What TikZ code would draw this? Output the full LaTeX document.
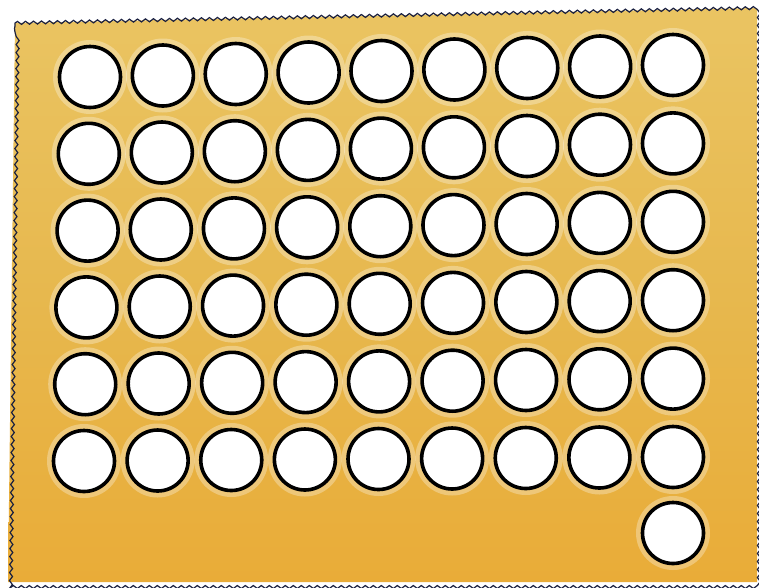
\documentclass[tikz,border=0pt]{standalone}
\usetikzlibrary{decorations.pathmorphing,calc}
\definecolor{cardtop}{HTML}{EAC462}
\definecolor{cardmid}{HTML}{E7B84E}
\definecolor{cardbot}{HTML}{E9AC38}
\definecolor{edgeblue}{HTML}{1A2040}
\tikzset{
  card/.style={top color=cardtop, bottom color=cardbot, middle color=cardmid},
  cardedge/.style={draw=edgeblue, line width=1.2pt,
    decorate, decoration={snake, segment length=8pt, amplitude=1.5pt}},
  hole/.style={circle, draw=black, fill=white, line width=3.6pt,
    minimum size=61pt, inner sep=0pt},
  halo/.style={fill=white, opacity=0.3}
}
\begin{document}
\begin{tikzpicture}[x=1pt,y=-1pt]
\useasboundingbox (0,0) rectangle (759,587);
\fill[white] (0,0) rectangle (759,587);
% card
\coordinate (tl) at (15,23);
\coordinate (tr) at (757,8);
\coordinate (br) at (757,582);
\coordinate (bl) at (8,582);
\shade[card] (tl) -- (tr) -- (br) -- (bl) -- cycle;
\draw[cardedge] (tl) -- (tr) -- (br) -- (bl) -- cycle;
% holes
\foreach \j in {0,...,5}{
  \foreach \i in {0,...,8}{
    \pgfmathsetmacro{\u}{\i/8}
    \pgfmathsetmacro{\v}{\j/5}
    \pgfmathsetmacro{\cx}{(1-\v)*((1-\u)*90+\u*673)+\v*((1-\u)*84+\u*673)}
    \pgfmathsetmacro{\cy}{(1-\v)*((1-\u)*77+\u*65)+\v*((1-\u)*461+\u*457)}
    \fill[halo] (\cx,\cy) circle (37);
  }
}
\fill[halo] (673,533) circle (37);
\foreach \j in {0,...,5}{
  \foreach \i in {0,...,8}{
    \pgfmathsetmacro{\u}{\i/8}
    \pgfmathsetmacro{\v}{\j/5}
    \pgfmathsetmacro{\cx}{(1-\v)*((1-\u)*90+\u*673)+\v*((1-\u)*84+\u*673)}
    \pgfmathsetmacro{\cy}{(1-\v)*((1-\u)*77+\u*65)+\v*((1-\u)*461+\u*457)}
    \node[hole] (c-\i-\j) at (\cx,\cy) {};
  }
}
\node[hole] (extra) at (673,533) {};
\end{tikzpicture}
\end{document}
